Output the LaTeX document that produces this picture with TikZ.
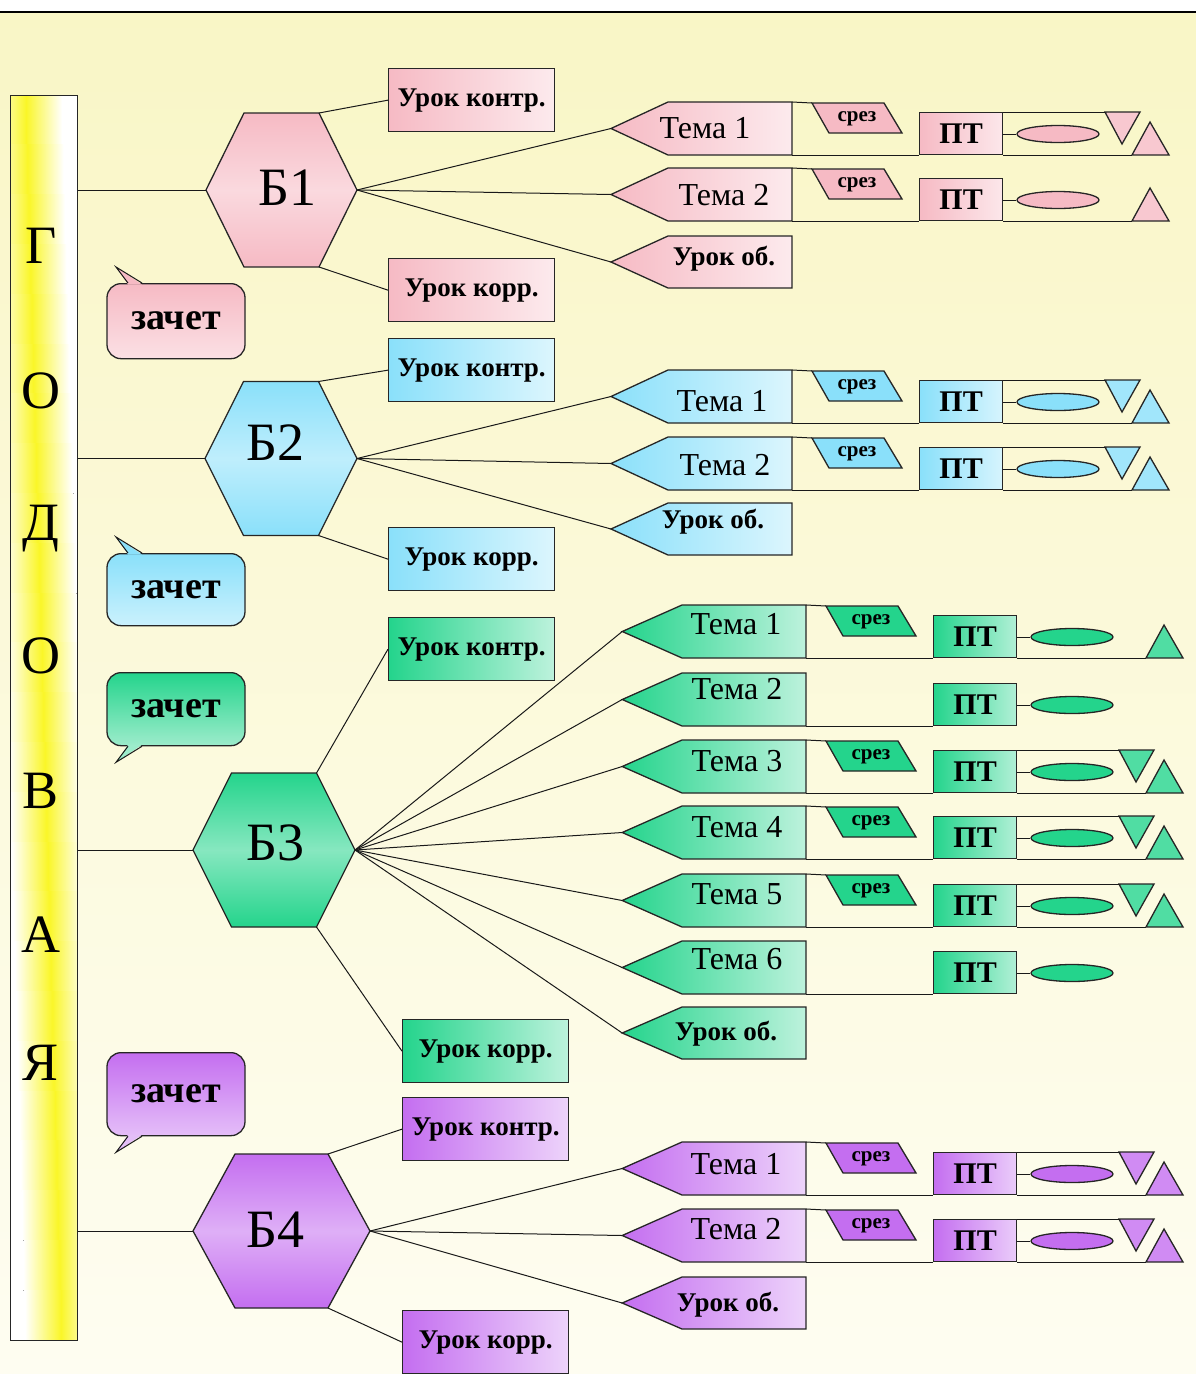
\documentclass[tikz,border=0pt]{standalone}
\usepackage{fontspec}
\setmainfont{Liberation Serif}
\usetikzlibrary{positioning}
\usetikzlibrary{shapes.geometric}

\definecolor{bgtop}{RGB}{249,246,198}
\definecolor{bgbot}{RGB}{254,253,241}
\definecolor{baryel}{RGB}{250,246,40}
\definecolor{blk1}{RGB}{246,186,196}
\definecolor{blk2}{RGB}{138,224,250}
\definecolor{blk3}{RGB}{36,212,140}
\definecolor{blk4}{RGB}{196,110,240}

\tikzset{
	every node/.style = {inner sep=0pt},
	outl/.style = {draw=black!85, line width=1.3pt},
	link/.style = {draw=black!90, line width=1pt},
	barletter/.style = {font=\fontsize{54}{60}\selectfont},
	blabel/.style = {font=\fontsize{54}{60}\selectfont},
	temalabel/.style = {font=\fontsize{32}{36}\selectfont},
	boldlabel/.style = {font=\fontsize{27}{32}\selectfont\bfseries},
	urokbox/.style = {outl, rectangle, minimum width=166pt, minimum height=63pt, boldlabel},
	zbox/.style = {outl, rectangle, rounded corners=14pt, minimum width=138pt, font=\fontsize{38}{42}\selectfont\bfseries},
	ptbox/.style = {outl, rectangle, minimum width=83pt, minimum height=42pt, font=\fontsize{30}{34}\selectfont\bfseries},
	ovalbox/.style = {outl, ellipse, minimum width=82pt, minimum height=17pt},
	srezlabel/.style = {font=\fontsize{21}{24}\selectfont\bfseries}
}

\begin{document}
\begin{tikzpicture}[x=1pt, y=-1pt]
	\useasboundingbox (0,0) rectangle (1196,1374);
	% background
	\fill[white] (0,0) rectangle (1196,12);
	\fill[top color=bgtop, bottom color=bgbot] (0,12) rectangle (1196,1374);
	\draw[line width=2pt] (0,12) -- (1196,12);
	
	% year bar, yellow band running down to the right
	\begin{scope}
		\clip (10,95) rectangle (77,1340);
		\fill[white] (10,95) rectangle (77,1340);
		\foreach \k in {0,...,24}
			\fill[left color=white, right color=white, middle color=baryel] (26+\k*1.45-36,95+\k*49.8) rectangle (26+\k*1.45+36,145.5+\k*49.8);
	\end{scope}
	\node[outl, anchor=north west, minimum width=67pt, minimum height=1245pt] (bar) at (10,95) {};
	\foreach \ch/\yb [count=\i] in {Г/263, О/408, Д/540, О/673, В/808, А/952, Я/1080}
		\node[barletter, anchor=base] (l\i) at (41,\yb) {\ch};
	
	% blocks
	\foreach \b/\cx/\cy/\hw/\tw/\tx/\ty in {1/281.5/190/75.5/37.5/288/188, 2/281/458.5/76/37.5/276/443, 3/274/850/81/42.5/276/843, 4/281.5/1231/88.5/46.5/276/1230}{
		\draw[outl, top color=blk\b, bottom color=blk\b, middle color=blk\b!55!white] (\cx-\hw,\cy) -- (\cx-\tw,\cy-77) -- (\cx+\tw,\cy-77) -- (\cx+\hw,\cy) -- (\cx+\tw,\cy+77) -- (\cx-\tw,\cy+77) -- cycle;
		\node[blabel] (b\b) at (\tx,\ty) {Б\b};
		\coordinate (b\b-w) at (\cx-\hw,\cy);
		\coordinate (b\b-e) at (\cx+\hw,\cy);
		\coordinate (b\b-ne) at (\cx+\tw,\cy-77);
		\coordinate (b\b-se) at (\cx+\tw,\cy+77);
		\draw[link] (b\b-w -| bar.east) -- (b\b-w);
	}
	
	% control and correction lessons
	\foreach \b/\kx/\ky/\rx/\ry in {1/388/68/388/258, 2/388/338/388/527, 3/388/617/402/1019, 4/402/1097/402/1310}{
		\node[urokbox, left color=blk\b, right color=blk\b!30!white, anchor=north west] (k\b) at (\kx,\ky) {Урок контр.};
		\node[urokbox, left color=blk\b, right color=blk\b!30!white, anchor=north west] (r\b) at (\rx,\ry) {Урок корр.};
		\draw[link] (b\b-ne) -- (k\b.west);
		\draw[link] (b\b-se) -- (r\b.west);
	}
	
	% zachet bubbles
	\foreach \b/\y/\h/\side/\s/\tc in {1/283/75/north/1/blk1, 2/553/72/north/1/blk2, 3/672/73/south/-1/blk3!45!white, 4/1052/83/south/-1/blk4!45!white}{
		\node[zbox, top color=blk\b, bottom color=blk\b!45!white, minimum height=\h pt, anchor=north] (z\b) at (176,\y) {зачет};
		\fill[fill=\tc] ([xshift=-48pt,yshift=\s*-1.5pt]z\b.\side) -- ([xshift=-60pt,yshift=\s*16pt]z\b.\side) -- ([xshift=-34pt,yshift=\s*-1.5pt]z\b.\side) -- cycle;
		\draw[link] ([xshift=-48pt]z\b.\side) -- ([xshift=-60pt,yshift=\s*16pt]z\b.\side) -- ([xshift=-34pt]z\b.\side);
	}
	
	% topics
	\foreach \b/\n/\T/\dx/\tx/\ty in {1/1/102/0/705/26, 1/2/168/0/724/27, 2/1/370/0/722/31, 2/2/437/0/725/28, 3/1/605/14/736/19, 3/2/673/14/737/16, 3/3/740/14/737/21, 3/4/806/14/737/21, 3/5/874/14/737/20, 3/6/941/14/737/18, 4/1/1142/14/736/22, 4/2/1209/14/736/20}{
		\draw[outl, left color=blk\b, right color=blk\b!30!white] (668+\dx,\T) -- (792+\dx,\T) -- (792+\dx,\T+53) -- (668+\dx,\T+53) -- (611+0.8*\dx,\T+26.5) -- cycle;
		\coordinate (tp\b-\n) at (611+0.8*\dx,\T+26.5);
		\coordinate (tne\b-\n) at (792+\dx,\T);
		\coordinate (tse\b-\n) at (792+\dx,\T+53);
		\node[temalabel] (t\b-\n) at (\tx,\T+\ty) {Тема \n};
		\node[ptbox, left color=blk\b, right color=blk\b!35!white, anchor=south west] (p\b-\n) at (919+\dx,\T+53) {ПТ};
		\node[ovalbox, fill=blk\b] (e\b-\n) at (1058+\dx,\T+32) {};
		\draw[link] (tse\b-\n) -- (p\b-\n.south west);
		\draw[link] (p\b-\n.east |- e\b-\n) -- (e\b-\n.west);
		\draw[link] (b\b-e) -- (tp\b-\n);
	}
	
	% generalising lessons
	\foreach \b/\T/\dx/\tx/\ty in {1/236/0/724/23, 2/503/0/713/19, 3/1007/14/726/27, 4/1277/14/728/28}{
		\draw[outl, left color=blk\b, right color=blk\b!30!white] (668+\dx,\T) -- (792+\dx,\T) -- (792+\dx,\T+52) -- (668+\dx,\T+52) -- (611+0.8*\dx,\T+26) -- cycle;
		\coordinate (op\b) at (611+0.8*\dx,\T+26);
		\node[boldlabel] (o\b) at (\tx,\T+\ty) {Урок об.};
		\draw[link] (b\b-e) -- (op\b);
	}
	
	% srez
	\foreach \b/\n/\T/\dx in {1/1/102/0, 1/2/168/0, 2/1/370/0, 2/2/437/0, 3/1/605/14, 3/3/740/14, 3/4/806/14, 3/5/874/14, 4/1/1142/14, 4/2/1209/14}{
		\draw[outl, fill=blk\b] (812+\dx,\T+1) -- (884+\dx,\T+1) -- (902+\dx,\T+31) -- (829+\dx,\T+31) -- cycle;
		\coordinate (sw\b-\n) at (812+\dx,\T+1);
		\node[srezlabel] (s\b-\n) at (857+\dx,\T+17) {срез};
		\draw[link] (tne\b-\n) -- (sw\b-\n);
	}
	
	% down triangles
	\foreach \b/\n/\T/\dx in {1/1/102/0, 2/1/370/0, 2/2/437/0, 3/3/740/14, 3/4/806/14, 3/5/874/14, 4/1/1142/14, 4/2/1209/14}{
		\draw[outl, fill=blk\b!80!white] (1105+\dx,\T+10) -- (1140+\dx,\T+10) -- (1122+\dx,\T+42) -- cycle;
		\coordinate (vl\b-\n) at (1105+\dx,\T+10);
		\draw[link] (p\b-\n.east |- vl\b-\n) -- (vl\b-\n);
	}
	
	% up triangles
	\foreach \b/\n/\T/\dx in {1/1/102/0, 1/2/168/0, 2/1/370/0, 2/2/437/0, 3/1/605/14, 3/3/740/14, 3/4/806/14, 3/5/874/14, 4/1/1142/14, 4/2/1209/14}{
		\draw[outl, fill=blk\b!80!white] (1132+\dx,\T+53) -- (1169+\dx,\T+53) -- (1150+\dx,\T+20) -- cycle;
		\coordinate (al\b-\n) at (1132+\dx,\T+53);
		\draw[link] (p\b-\n.south east) -- (al\b-\n);
	}
\end{tikzpicture}
\end{document}
